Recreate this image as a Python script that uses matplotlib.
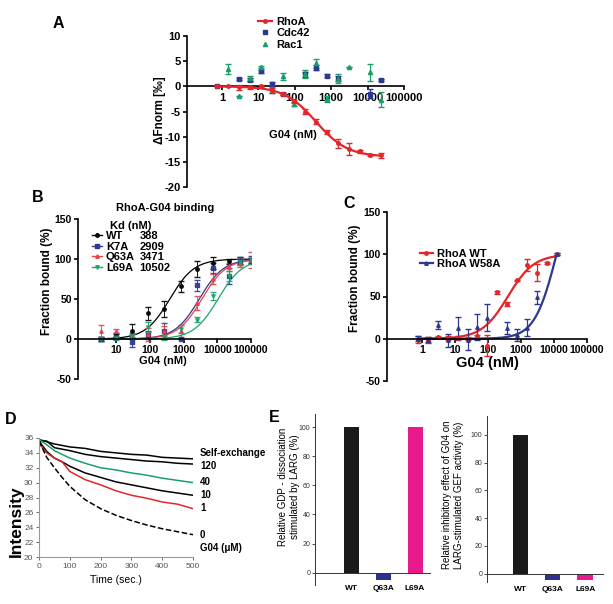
import matplotlib
matplotlib.use("Agg")
import matplotlib.pyplot as plt
from matplotlib.lines import Line2D
import numpy as np

plt.rcParams['font.family'] = ['Liberation Sans', 'DejaVu Sans']

W, H = 613, 604

RED = '#e3262c'
BLUE = '#2b3990'
GREEN = '#1a9e6a'
PINK = '#e8198b'

# ---------------- panel A : MST, dFnorm vs G04 ----------------
conc_a = [0.75, 1.5, 3, 6, 12, 24, 48, 95, 190, 380, 760, 1500, 3000, 6000, 12000, 24000]
rhoa = [0, 0, -0.2, -0.2, 0, -0.8, -1.6, -3.0, -5.0, -7.0, -9.1, -11.3, -12.5, -12.9, -13.7, -13.7]
rhoa_err = [0, 0, 0.5, 0.3, 0.2, 0.5, 0.2, 0.3, 0.5, 0.5, 0.4, 0.9, 1.2, 0.3, 0.2, 0.5]
cdc42 = [0, np.nan, 1.5, 1.3, 3.0, 0.5, -1.6, np.nan, 2.4, 3.7, 2.1, 1.5, np.nan, np.nan, -1.5, 1.3]
cdc42_err = [0, 0, 0.2, 0.3, 0.3, 0.3, 0.2, 0, 0.5, 0.5, 0.3, 0.5, 0, 0, 0.9, 0.2]
rac1 = [np.nan, 3.4, -1.9, 1.6, 3.8, -0.7, 2.0, -3.6, 2.5, 4.6, -2.6, 1.5, 3.9, np.nan, 2.8, -2.7]
rac1_err = [0, 1.0, 0, 0.5, 0.2, 0.6, 0.7, 0.4, 0.8, 0.9, 0.6, 0.9, 0, 0, 1.7, 1.5]
fit_a = (-14.0, 380.0, 1.0)  # top, EC50, hill

# ---------------- panel B : RhoA mutants ----------------
conc_b = [3.4, 10, 30, 90, 270, 820, 2500, 7400, 22000, 48000, 100000]
b_names = ['WT', 'K7A', 'Q63A', 'L69A']
b_kd = [388, 2909, 3471, 10502]
b_colors = ['black', BLUE, '#e8414a', '#1aa56a']
b_markers = ['o', 's', '^', 'v']
b_vals = [
    [0, 5, 10, 32, 37, 66, 88, 95, 97, 98, 98],
    [0, 3, -4, 5, 10, 0, 67, 89, 79, 98, 99],
    [10, 10, 4, 6, 10, 10, 45, 75, 90, 95, 99],
    [0, 1, 3, 15, 2, 12, 24, 54, 79, 96, 98],
]
b_errs = [
    [2, 3, 9, 8, 10, 7, 10, 7, 3, 4, 3],
    [2, 3, 6, 5, 10, 0, 7, 6, 10, 5, 5],
    [8, 3, 4, 8, 6, 8, 9, 6, 5, 5, 10],
    [2, 2, 3, 6, 3, 5, 3, 5, 6, 4, 3],
]
b_hill = 1.2

# ---------------- panel C : W58A ----------------
conc_c = [0.75, 1.5, 3, 6, 12, 24, 48, 95, 190, 380, 760, 1500, 3000, 6000, 12000]
c_wt = [-1, -1.5, 2, 1, 1, 0, 3, -8, 55, 41, 69, 87, 78, 90, 100]
c_wt_err = [4, 3, 1, 2, 2, 2, 2, 12, 2, 2, 1, 7, 10, 1, 1]
c_w58a = [0, -1, 16, -2, 13, -1, 14, 25, np.nan, 13, 4, 13, 49, np.nan, 100]
c_w58a_err = [3, 3, 5, 8, 13, 12, 15, 16, 0, 7, 7, 10, 8, 0, 1]
fit_c_wt = (100.0, 400.0, 1.1)
fit_c_w58a = (200.0, 12000.0, 1.3)

# ---------------- panel D : GDP exchange traces ----------------
time_d = [0, 25, 50, 75, 100, 150, 200, 250, 300, 350, 400, 450, 500]
d_self = [35.8, 35.5, 35.2, 35.0, 34.8, 34.6, 34.2, 34.0, 33.8, 33.7, 33.4, 33.3, 33.2]
d_120 = [35.5, 35.6, 34.7, 34.5, 34.3, 33.8, 33.5, 33.3, 33.1, 32.9, 32.8, 32.6, 32.5]
d_40 = [35.8, 35.1, 34.3, 33.8, 33.3, 32.6, 32.0, 31.7, 31.3, 31.0, 30.6, 30.3, 30.0]
d_10 = [35.6, 34.2, 33.3, 32.8, 32.2, 31.3, 30.7, 30.1, 29.7, 29.3, 28.9, 28.6, 28.3]
d_1 = [35.3, 34.0, 33.3, 32.8, 31.5, 30.4, 29.7, 28.9, 28.3, 27.9, 27.4, 27.1, 26.5]
d_0 = [35.6, 33.4, 32.0, 30.7, 29.5, 27.7, 26.5, 25.6, 24.9, 24.3, 23.8, 23.4, 23.0]
d_labels = ['Self-exchange', '120', '40', '10', '1', '0', 'G04 (\u03bcM)']

# ---------------- panel E : bars ----------------
e_cats = ['WT', 'Q63A', 'L69A']
e_gdp = [100, -5, 100]
e_inhib = [100, -5, -5]
e_colors = ['#1a1a1a', '#2e3192', PINK]


def hill(x, top, ec50, h):
    x = np.asarray(x, dtype=float)
    return top * x ** h / (ec50 ** h + x ** h)


def box(x0, y0, x1, y1):
    return [x0 / W, 1 - y1 / H, (x1 - x0) / W, (y1 - y0) / H]


def prism(ax, xt, xl, yt, lw=1.2, fs=8):
    ax.set_xscale('log')
    ax.spines['top'].set_visible(False)
    ax.spines['right'].set_visible(False)
    ax.spines['bottom'].set_position(('data', 0))
    for s in ('left', 'bottom'):
        ax.spines[s].set_linewidth(lw)
    ax.minorticks_off()
    ax.set_xticks(xt)
    ax.set_xticklabels(xl, fontweight='bold', fontsize=fs)
    ax.set_yticks(yt)
    ax.set_yticklabels([str(v) for v in yt], fontweight='bold', fontsize=fs)
    ax.tick_params(width=lw, length=3, pad=1.5)
    ax.xaxis.set_minor_locator(matplotlib.ticker.NullLocator())


fig = plt.figure(figsize=(W / 100, H / 100), dpi=100)

# ===== A =====
ax = fig.add_axes(box(187, 36, 404, 187))
ax.set_xlim(0.11, 100000)
ax.set_ylim(-20, 10)
prism(ax, [1, 10, 100, 1000, 10000, 100000],
      ['1', '10', '100', '1000', '10000', '100000'], [-20, -15, -10, -5, 0, 5, 10])
xs = np.logspace(np.log10(conc_a[0]), np.log10(conc_a[-1]), 200)
ax.plot(xs, hill(xs, *fit_a), color=RED, lw=1.6, zorder=4)
ax.errorbar(conc_a, rhoa, yerr=rhoa_err, fmt='o', ms=2.5, color=RED, capsize=2, elinewidth=0.9, zorder=5)
ax.errorbar(conc_a, cdc42, yerr=cdc42_err, fmt='s', ms=3, color=BLUE, capsize=2, elinewidth=0.9, zorder=3)
ax.errorbar(conc_a, rac1, yerr=rac1_err, fmt='^', ms=3, color=GREEN, capsize=2, elinewidth=0.9, zorder=3)
ax.set_ylabel('\u0394Fnorm [\u2030]', fontsize=8.5, fontweight='bold')
ax.yaxis.set_label_coords(-0.098, 0.51)
ax.text(0.488, 0.344, 'G04 (nM)', transform=ax.transAxes, ha='center', va='center',
        fontsize=8, fontweight='bold')
hA = [Line2D([], [], color=RED, lw=1.6, marker='o', ms=2.5),
      Line2D([], [], color=BLUE, lw=0, marker='s', ms=3),
      Line2D([], [], color=GREEN, lw=0, marker='^', ms=3)]
ax.legend(hA, ['RhoA', 'Cdc42', 'Rac1'], loc='upper left', bbox_to_anchor=(252 / W, 1 - 11 / H),
          bbox_transform=fig.transFigure, frameon=False, handlelength=1.3, handletextpad=0.4,
          labelspacing=0.15, borderpad=0, prop={'weight': 'bold', 'size': 8})

# ===== B =====
ax = fig.add_axes(box(78, 219, 251, 379))
ax.set_xlim(0.73, 100000)
ax.set_ylim(-50, 150)
prism(ax, [10, 100, 1000, 10000, 100000],
      ['10', '100', '1000', '10000', '100000'], [-50, 0, 50, 100, 150], fs=7.5)
xs = np.logspace(np.log10(conc_b[0]), np.log10(conc_b[-1]), 200)
handles = []
for name, kd, col, mk, v, e in zip(b_names, b_kd, b_colors, b_markers, b_vals, b_errs):
    ax.plot(xs, hill(xs, 100, kd, b_hill), color=col, lw=0.9)
    ax.errorbar(conc_b, v, yerr=e, fmt=mk, ms=2.5, color=col, capsize=2, elinewidth=0.7, alpha=0.9)
    handles.append(Line2D([], [], color=col, lw=1.0, marker=mk, ms=2.5))
blank = [Line2D([], [], alpha=0) for _ in b_names]
ax.legend(handles + blank, b_names + [str(k) for k in b_kd], ncol=2, title='Kd (nM)',
          loc='upper left', bbox_to_anchor=(86 / W, 1 - 215 / H), bbox_transform=fig.transFigure,
          frameon=False, handlelength=0.9, handletextpad=0.4, columnspacing=-0.9,
          labelspacing=0.05, borderpad=0,
          prop={'weight': 'bold', 'size': 8}, title_fontproperties={'weight': 'bold', 'size': 8})
ax.set_ylabel('Fraction bound (%)', fontsize=8.5, fontweight='bold')
ax.yaxis.set_label_coords(-0.145, 0.608)
ax.set_xlabel('G04 (nM)', fontsize=8, fontweight='bold')
ax.xaxis.set_label_coords(0.491, 0.145)
fig.text(165 / W, 1 - 208 / H, 'RhoA-G04 binding', ha='center', va='center',
         fontsize=8, fontweight='bold')

# ===== C =====
ax = fig.add_axes(box(387, 212, 587, 381))
ax.set_xlim(0.087, 100000)
ax.set_ylim(-50, 150)
prism(ax, [1, 10, 100, 1000, 10000, 100000],
      ['1', '10', '100', '1000', '10000', '100000'], [-50, 0, 50, 100, 150], fs=7.5)
xs = np.logspace(np.log10(conc_c[0]), np.log10(conc_c[-1]), 200)
ax.plot(xs, hill(xs, *fit_c_wt), color=RED, lw=1.6)
ax.plot(xs, hill(xs, *fit_c_w58a), color=BLUE, lw=1.6)
ax.errorbar(conc_c, c_wt, yerr=c_wt_err, fmt='o', ms=2.5, color=RED, capsize=2, elinewidth=0.9)
ax.errorbar(conc_c, c_w58a, yerr=c_w58a_err, fmt='^', ms=2.5, color=BLUE, capsize=2, elinewidth=0.9)
hC = [Line2D([], [], color=RED, lw=1.6, marker='o', ms=2.5),
      Line2D([], [], color=BLUE, lw=1.6, marker='^', ms=2.5)]
ax.legend(hC, ['RhoA WT', 'RhoA W58A'], loc='upper left', bbox_to_anchor=(414 / W, 1 - 243 / H),
          bbox_transform=fig.transFigure, frameon=False, handlelength=1.2, handletextpad=0.4,
          labelspacing=0.05, borderpad=0, prop={'weight': 'bold', 'size': 8})
ax.set_ylabel('Fraction bound (%)', fontsize=8.5, fontweight='bold')
ax.yaxis.set_label_coords(-0.13, 0.608)
ax.set_xlabel('G04 (nM)', fontsize=10.5, fontweight='bold')
ax.xaxis.set_label_coords(0.5, 0.148)

# ===== D =====
ax = fig.add_axes(box(39, 438, 193, 557))
traces = [(d_self, 'black', '-'), (d_120, 'black', '-'), (d_40, '#1aa06a', '-'),
          (d_10, 'black', '-'), (d_1, '#e3262c', '-'), (d_0, 'black', '--')]
for y, col, ls in traces:
    ax.plot(time_d, y, color=col, ls=ls, lw=1.1)
ax.set_xlim(0, 500)
ax.set_ylim(20, 36)
ax.set_xticks([0, 100, 200, 300, 400, 500])
ax.set_yticks(list(range(20, 37, 2)))
for s in ('top', 'right'):
    ax.spines[s].set_visible(False)
for s in ('left', 'bottom'):
    ax.spines[s].set_color('#999999')
    ax.spines[s].set_linewidth(0.8)
ax.tick_params(labelsize=6, colors='#555555', length=2, width=0.6, pad=2)
ax.set_ylabel('Intensity', fontsize=12.5, fontweight='bold')
ax.yaxis.set_label_coords(-0.097, 0.30)
ax.set_xlabel('Time (sec.)', fontsize=7.5)
ax.xaxis.set_label_coords(0.5, -0.152)
label_y = [34.0, 32.3, 30.1, 28.3, 26.6, 22.9, 21.2]
for txt, yy in zip(d_labels, label_y):
    ax.text(523, yy, txt, fontsize=7, fontweight='bold', va='center', ha='left', clip_on=False)

# ===== E =====
def bars(rect, vals, ylim, xlim, ylab, lab_xy):
    ax = fig.add_axes(rect)
    ax.bar(range(len(e_cats)), vals, width=0.47, color=e_colors)
    ax.set_xlim(*xlim)
    ax.set_ylim(*ylim)
    ax.spines['top'].set_visible(False)
    ax.spines['right'].set_visible(False)
    ax.spines['bottom'].set_position(('data', 0))
    for s in ('left', 'bottom'):
        ax.spines[s].set_linewidth(0.7)
        ax.spines[s].set_color('#333333')
    ax.set_yticks([0, 20, 40, 60, 80, 100])
    ax.set_xticks(range(len(e_cats)))
    ax.set_xticklabels(e_cats, fontsize=6, fontweight='bold')
    ax.tick_params(axis='x', length=0, pad=9)
    ax.tick_params(axis='y', labelsize=5, length=2, width=0.6, pad=1.5, colors='#333333')
    ax.set_ylabel(ylab, fontsize=7)
    ax.yaxis.set_label_coords(*lab_xy)
    return ax

bars(box(315, 414, 430, 585), e_gdp, (-8.5, 109), (-1.16, 2.47),
     'Relative GDP - dissociation\nstimulated by LARG (%)', (-0.13, 0.573))
bars(box(487, 416, 603, 582), e_inhib, (-6.1, 113.7), (-1.02, 2.55),
     'Relative inhibitory effect of G04 on\nLARG-stimulated GEF activity (%)', (-0.198, 0.523))

# panel letters
for letter, (px, py) in zip('ABCDE', [(58, 24), (38, 197), (349, 203), (11, 420), (274, 417)]):
    fig.text(px / W, 1 - py / H, letter, fontsize=11.5, fontweight='bold', ha='center', va='center')

fig.savefig('out.png', dpi=100)
